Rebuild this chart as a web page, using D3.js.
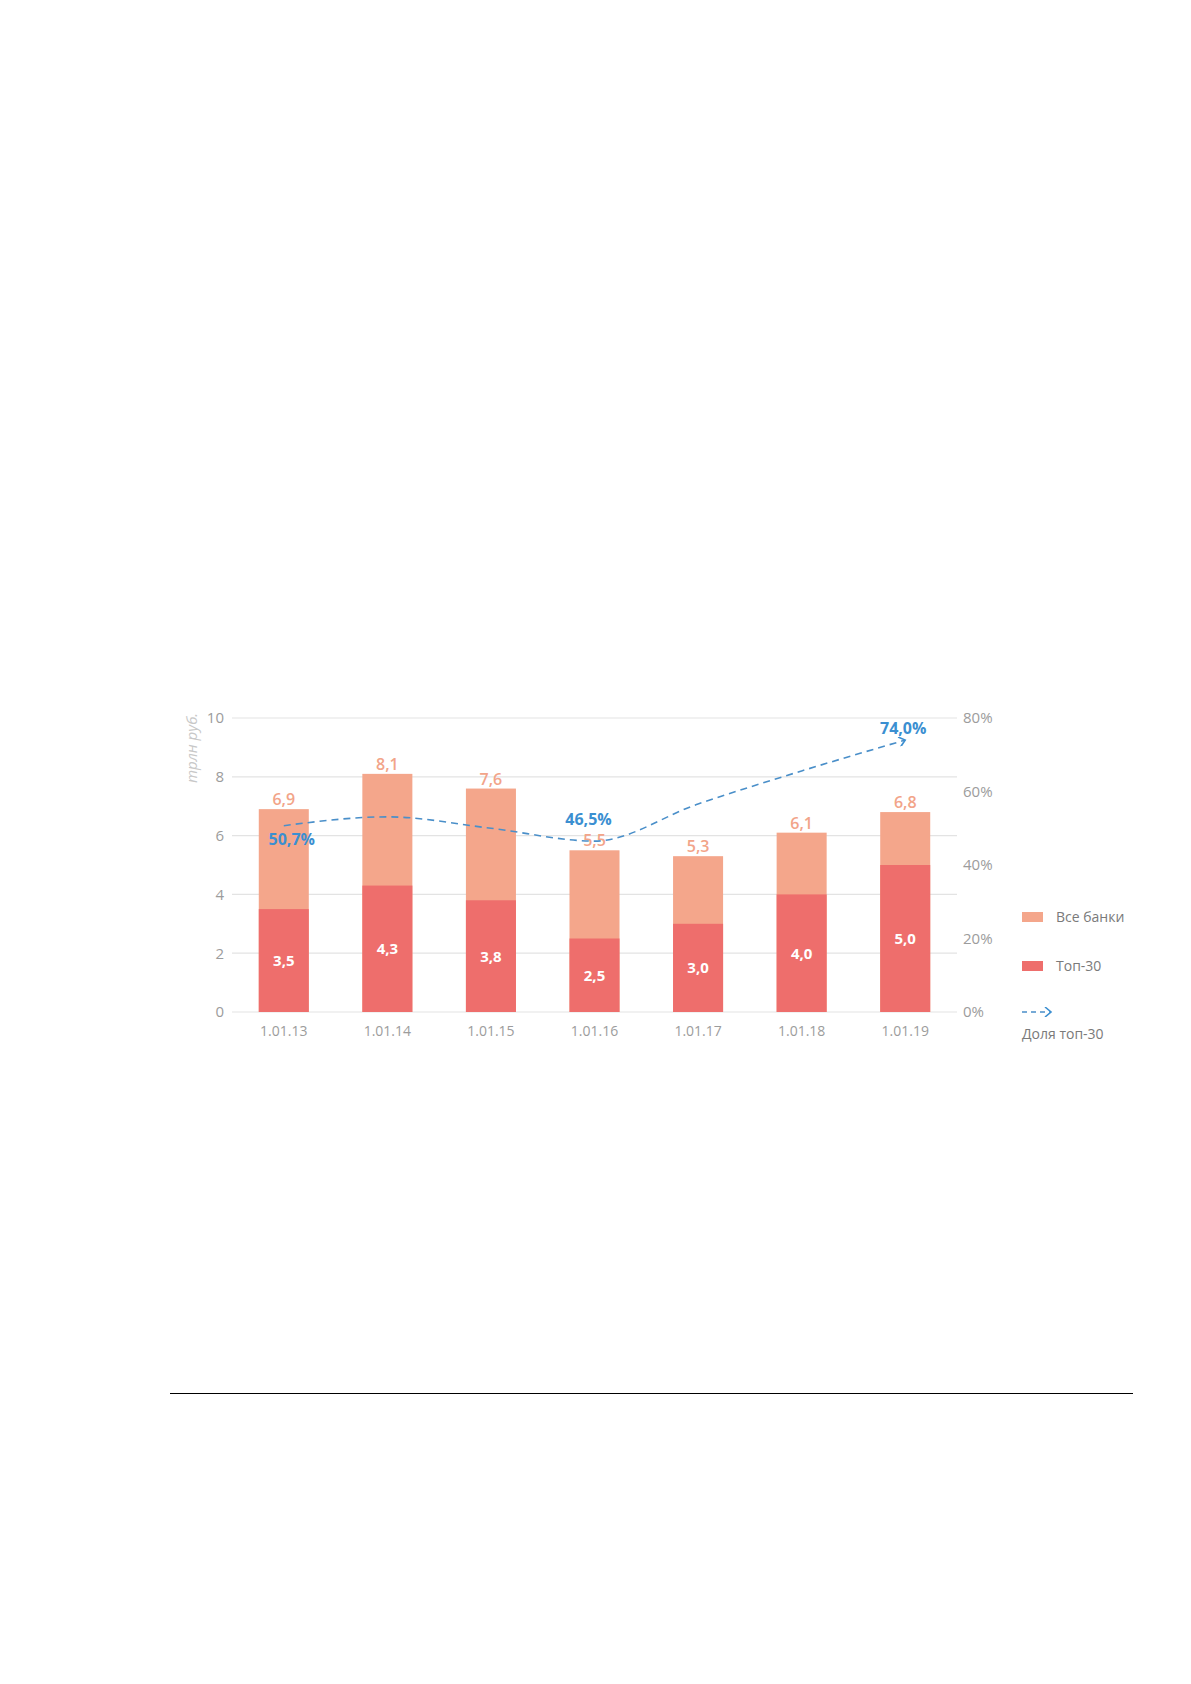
<!DOCTYPE html>
<html><head><meta charset="utf-8">
<script src="https://cdn.jsdelivr.net/npm/d3@7"></script>
<style>body{margin:0;background:#fff}svg{display:block}text{font-family:"Open Sans",sans-serif}</style>
</head><body>
<script>
const categories = ["1.01.13","1.01.14","1.01.15","1.01.16","1.01.17","1.01.18","1.01.19"];
const allBanks = [6.9, 8.1, 7.6, 5.5, 5.3, 6.1, 6.8];
const top30 = [3.5, 4.3, 3.8, 2.5, 3.0, 4.0, 5.0];
const shareTop30 = [50.7, 53.1, 50.0, 46.5, 56.6, 65.6, 74.0];
const shareLabels = {0:"50,7%", 3:"46,5%", 6:"74,0%"};
const leftTicks = [0,2,4,6,8,10];
const rightTicks = [0,20,40,60,80];
const legendItems = ["Все банки","Топ-30","Доля топ-30"];
const fmt = v => v.toFixed(1).replace(".", ",");

const W = 1191, H = 1684;
const svg = d3.select("body").append("svg").attr("width", W).attr("height", H);

const x = d3.scaleBand().domain(categories).range([232, 957]).paddingInner(0.517).paddingOuter(0.2585);
const y = d3.scaleLinear().domain([0, 10]).range([1012, 718]);
const yR = d3.scaleLinear().domain([0, 80]).range([1012, 718]);

// gridlines
svg.append("g").selectAll("line").data(leftTicks).join("line")
  .attr("x1", 232).attr("x2", 957).attr("y1", d => y(d)).attr("y2", d => y(d))
  .attr("stroke", "#e3e3e3").attr("stroke-width", 1.2);

// left axis
const gL = svg.append("g").attr("transform", "translate(232,0)")
  .call(d3.axisLeft(y).tickValues(leftTicks).tickSize(0).tickPadding(8));
gL.select(".domain").remove();
gL.selectAll("text").attr("fill", "#9c9c9c").style("font-size", "15px").style("font-family", "Open Sans");

// right axis
const gR = svg.append("g").attr("transform", "translate(957,0)")
  .call(d3.axisRight(yR).tickValues(rightTicks).tickFormat(d => d + "%").tickSize(0).tickPadding(6));
gR.select(".domain").remove();
gR.selectAll("text").attr("fill", "#9c9c9c").style("font-size", "15px").style("font-family", "Open Sans");

// bottom axis
const gB = svg.append("g").attr("transform", "translate(0,1012)")
  .call(d3.axisBottom(x).tickSize(0).tickPadding(14));
gB.select(".domain").remove();
gB.selectAll("text").attr("fill", "#9c9c9c").style("font-size", "14px").style("font-family", "Open Sans");

// y title
svg.append("text").attr("transform", "translate(197,748) rotate(-90)")
  .attr("text-anchor", "middle").attr("fill", "#c8c8c8").style("font-style", "italic")
  .style("font-size", "15px").text("трлн руб.");

// bars
const bars = svg.append("g");
bars.selectAll(".all").data(categories).join("rect")
  .attr("x", d => x(d)).attr("width", x.bandwidth())
  .attr("y", (d, i) => y(allBanks[i])).attr("height", (d, i) => y(0) - y(allBanks[i]))
  .attr("fill", "#f4a68b");
bars.selectAll(".top").data(categories).join("rect")
  .attr("x", d => x(d)).attr("width", x.bandwidth())
  .attr("y", (d, i) => y(top30[i])).attr("height", (d, i) => y(0) - y(top30[i]))
  .attr("fill", "#ee6e6c");

// total labels
svg.append("g").selectAll("text").data(categories).join("text")
  .attr("x", d => x(d) + x.bandwidth() / 2).attr("y", (d, i) => y(allBanks[i]) - 4)
  .attr("text-anchor", "middle").attr("fill", "#f2a489").style("font-size", "16px").style("font-weight", 600)
  .text((d, i) => fmt(allBanks[i]));

// inner labels
svg.append("g").selectAll("text").data(categories).join("text")
  .attr("x", d => x(d) + x.bandwidth() / 2).attr("y", (d, i) => (y(top30[i]) + y(0)) / 2)
  .attr("dy", "0.36em")
  .attr("text-anchor", "middle").attr("fill", "#fff").style("font-size", "15px").style("font-weight", 700)
  .text((d, i) => fmt(top30[i]));

// line
const defs = svg.append("defs");
defs.append("marker").attr("id", "arr").attr("viewBox", "0 0 10 10").attr("refX", 8).attr("refY", 5)
  .attr("markerWidth", 10).attr("markerHeight", 10).attr("markerUnits", "userSpaceOnUse").attr("orient", "auto")
  .append("path").attr("d", "M2,0 L8,5 L2,10").attr("fill", "none").attr("stroke", "#3c8fd0").attr("stroke-width", 1.6);

const line = d3.line().x((d, i) => x(categories[i]) + x.bandwidth() / 2).y(d => yR(d)).curve(d3.curveMonotoneX);
svg.append("path").datum(shareTop30).attr("d", line)
  .attr("fill", "none").attr("stroke", "#4a8fc9").attr("stroke-width", 1.6)
  .attr("stroke-dasharray", "7,5").attr("marker-end", "url(#arr)");

// share labels
const offs = {0:[8, 14], 3:[-6, -22], 6:[-2, -12]};
svg.append("g").selectAll("text").data(Object.keys(shareLabels)).join("text")
  .attr("x", k => x(categories[k]) + x.bandwidth() / 2 + offs[k][0])
  .attr("y", k => yR(shareTop30[k]) + offs[k][1])
  .attr("dy", "0.36em").attr("text-anchor", "middle")
  .attr("fill", "#3b8fd1").style("font-size", "16px").style("font-weight", 700)
  .text(k => shareLabels[k]);

// legend
const lg = svg.append("g");
lg.append("rect").attr("x", 1022).attr("y", 912).attr("width", 21).attr("height", 10).attr("fill", "#f4a68b");
lg.append("text").attr("x", 1056).attr("y", 917).attr("dy", "0.36em").attr("fill", "#7a7a7a").style("font-size", "14px").text(legendItems[0]);
lg.append("rect").attr("x", 1022).attr("y", 961).attr("width", 21).attr("height", 10).attr("fill", "#ee6e6c");
lg.append("text").attr("x", 1056).attr("y", 966).attr("dy", "0.36em").attr("fill", "#7a7a7a").style("font-size", "14px").text(legendItems[1]);
lg.append("line").attr("x1", 1022).attr("x2", 1051).attr("y1", 1012).attr("y2", 1012)
  .attr("stroke", "#4a8fc9").attr("stroke-width", 1.6).attr("stroke-dasharray", "5,4").attr("marker-end", "url(#arr)");
lg.append("text").attr("x", 1022).attr("y", 1034).attr("dy", "0.36em").attr("fill", "#7a7a7a").style("font-size", "14px").text(legendItems[2]);

// footer rule
svg.append("line").attr("x1", 170).attr("x2", 1133).attr("y1", 1393.5).attr("y2", 1393.5).attr("stroke", "#000").attr("stroke-width", 1);
</script>
</body></html>
